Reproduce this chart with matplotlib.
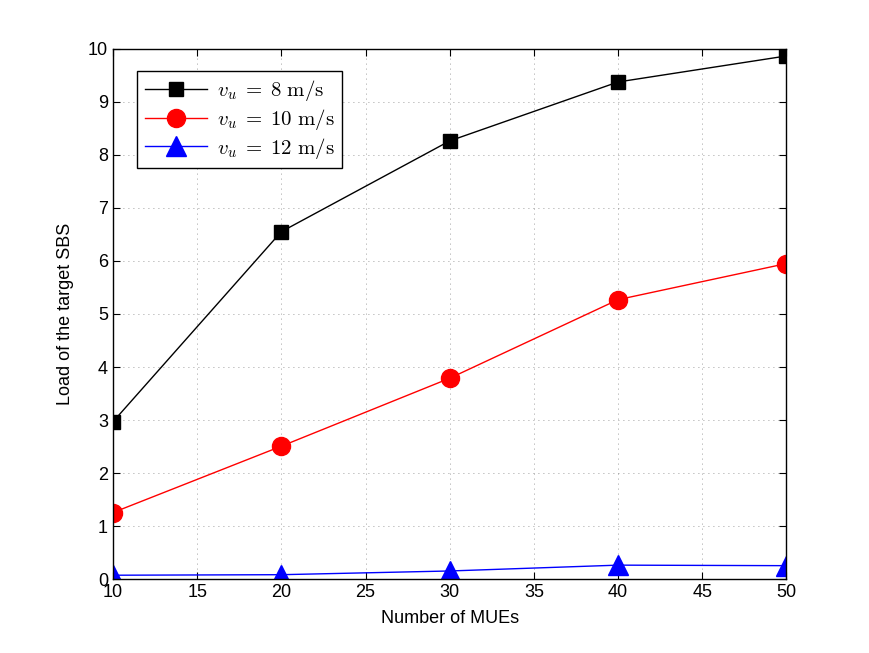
import numpy as np
import matplotlib
matplotlib.use("Agg")
import matplotlib.pyplot as plt

# data
mues = [10, 20, 30, 40, 50]
load_v8 = [2.97, 6.55, 8.26, 9.37, 9.86]
load_v10 = [1.26, 2.51, 3.79, 5.27, 5.95]
load_v12 = [0.08, 0.09, 0.16, 0.27, 0.26]
labels = [r'$v_u\;=\;8\ \mathrm{m/s}$', r'$v_u\;=\;10\ \mathrm{m/s}$', r'$v_u\;=\;12\ \mathrm{m/s}$']

plt.rcParams['font.family'] = ['Liberation Sans', 'DejaVu Sans']
plt.rcParams['mathtext.fontset'] = 'cm'

fig = plt.figure(figsize=(8.69, 6.53), dpi=100)
ax = fig.add_axes([0.13, 0.1126, 0.775, 0.8131])

ax.plot(mues, load_v8, '-s', color='k', mfc='k', mec='k', ms=10, lw=1, label=labels[0])
ax.plot(mues, load_v10, '-o', color='r', mfc='r', mec='r', ms=13, lw=1, label=labels[1])
ax.plot(mues, load_v12, '-^', color='b', mfc='b', mec='b', ms=15, lw=1, label=labels[2])

ax.set_xlim(10, 50)
ax.set_ylim(0, 10)
ax.set_xticks(range(10, 51, 5))
ax.set_yticks(range(0, 11))
ax.grid(True, linestyle=(0, (1, 5)), color='k', lw=0.6, alpha=0.5)
ax.tick_params(direction='in', top=True, right=True, labelsize=13, length=5)
for s in ax.spines.values():
    s.set_linewidth(1.0)

ax.set_xlabel('Number of MUEs', fontsize=13, labelpad=6)
ax.set_ylabel('Load of the target SBS', fontsize=13, labelpad=10)

leg = ax.legend(loc='upper left', bbox_to_anchor=(0.036, 0.958), borderaxespad=0,
                fontsize=15, fancybox=False, edgecolor='k', framealpha=1,
                borderpad=0.35, labelspacing=0.18, handlelength=3.0, handletextpad=0.5)
leg.get_frame().set_linewidth(1.0)

fig.savefig('out.png', dpi=100)
